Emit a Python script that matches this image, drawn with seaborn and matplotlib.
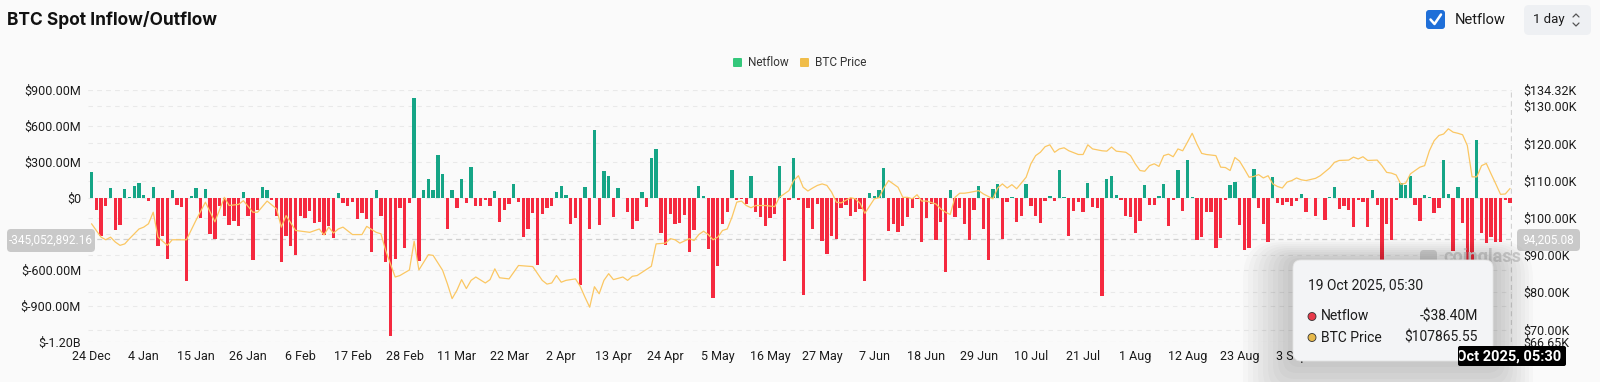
import numpy as np
import pandas as pd
import matplotlib
matplotlib.use('Agg')
import matplotlib.pyplot as plt
import matplotlib.transforms as mtrans
from matplotlib.patches import FancyBboxPatch, Circle
from matplotlib.lines import Line2D
from matplotlib.ticker import FuncFormatter
import seaborn as sns

# ── data ────────────────────────────────────────────────────
start_date = pd.Timestamp('2024-12-24')

# daily spot netflow, $M, 24 Dec 2024 .. 19 Oct 2025
netflow_m = [
    217, -97, -320, -69, 81, -264, -228, 75, 8, 103,
    128, 25, -28, 92, -397, -320, -508, 64, -58, -75,
    -689, 19, 81, -167, 75, -297, -339, -69, -147, -228,
    -189, -236, 47, -153, -519, -97, 92, 69, -14, -153,
    -536, -314, -403, -472, -147, -169, -111, -208, -203, -308,
    -236, -333, 42, -42, -69, -36, -175, -125, -175, -450,
    64, -147, -536, -1153, -506, -86, -417, -42, 833, -528,
    64, 158, 64, 358, 197, -258, 67, -86, 158, -42,
    258, -69, -64, -19, -64, 58, -203, -103, -47, 119,
    -31, -325, -256, -125, -556, -136, -86, -69, 53, 103,
    22, -214, -164, -722, 94, -258, 569, -225, 222, 186,
    -161, 83, 0, -114, -256, -189, 53, -75, 333, 408,
    -292, -392, -131, -217, -208, -144, -450, -269, 103, 14,
    -425, -836, -564, -214, -114, 231, -14, -5, -47, 181,
    -117, -161, -231, -167, -131, 269, -528, -19, 336, -19,
    -811, -83, -258, -47, -356, -467, -314, -339, -86, -58,
    -147, -117, -92, -694, 42, 14, 69, 250, -272, -214,
    -281, -231, -161, -83, -8, -369, -167, -47, -347, -197,
    -619, 64, -161, -83, -217, -347, -97, 103, -256, -519,
    75, 117, -344, -36, 6, -203, -153, 117, -64, -147,
    -208, -25, 14, -22, 236, 8, -314, -111, -36, -117,
    125, -78, -83, -814, 158, 186, 25, -19, -153, -161,
    -292, -189, 111, -56, -56, 14, 117, -231, -19, 236,
    -106, 319, 8, -347, -328, -119, -119, -417, -333, -14,
    106, 133, -228, -436, -417, 242, -83, -214, -369, 172,
    -42, -56, -31, -64, -28, 33, -114, 4, -147, 3,
    -181, 6, 92, -92, -69, -103, -244, -14, -36, -244,
    67, -56, -560, -214, -353, -20, 125, 111, 186, -56,
    -189, 25, 8, -125, -83, 319, 33, -439, 89, -208,
    -520, -540, 483, -289, -378, -322, -364, -364, -20, -38.4,
]

# BTC price readings, $K, at day offsets from 24 Dec 2024
price_day = [
    0, 2, 3, 4, 5, 6, 7, 8, 10, 11,
    12, 13, 14, 16, 17, 20, 22, 24, 26, 28,
    29, 31, 32, 34, 35, 37, 39, 40, 41, 43,
    46, 48, 49, 50, 51, 52, 53, 55, 57, 58,
    60, 61, 62, 64, 65, 67, 68, 69, 71, 72,
    74, 75, 76, 77, 78, 79, 80, 81, 83, 84,
    85, 86, 88, 90, 93, 95, 96, 97, 98, 99,
    100, 102, 103, 104, 105, 106, 107, 108, 109, 110,
    112, 113, 114, 115, 118, 119, 121, 122, 123, 124,
    126, 127, 128, 129, 130, 131, 132, 133, 134, 135,
    136, 137, 138, 139, 140, 142, 144, 145, 147, 148,
    149, 150, 151, 152, 153, 154, 155, 156, 157, 158,
    160, 161, 162, 163, 165, 166, 167, 168, 170, 171,
    172, 173, 174, 175, 176, 178, 179, 180, 181, 182,
    183, 184, 185, 187, 188, 190, 191, 192, 193, 194,
    195, 197, 198, 199, 200, 201, 202, 203, 204, 205,
    206, 208, 209, 210, 211, 213, 214, 215, 216, 218,
    219, 220, 221, 222, 223, 224, 225, 226, 227, 228,
    229, 230, 231, 232, 233, 234, 235, 237, 238, 239,
    240, 241, 242, 243, 244, 245, 246, 247, 248, 249,
    250, 251, 252, 253, 254, 255, 256, 258, 259, 261,
    262, 263, 265, 266, 267, 268, 269, 271, 272, 273,
    274, 275, 276, 277, 278, 280, 281, 282, 283, 284,
    285, 286, 287, 288, 289, 290, 291, 292, 293, 294,
    295, 296, 297, 298, 299,
]
price_k = [
    98.4, 94.8, 94.1, 94.8, 93.5, 92.6, 93.0, 94.4, 97.0, 97.5,
    98.4, 101.5, 94.8, 92.6, 94.1, 94.1, 99.3, 104.2, 98.9, 105.5,
    103.3, 103.6, 104.6, 101.5, 101.5, 104.5, 102.4, 97.5, 100.6, 96.6,
    96.1, 97.0, 95.4, 97.5, 95.9, 97.0, 97.5, 95.5, 95.5, 97.7,
    96.1, 95.7, 91.2, 84.1, 84.5, 86.0, 93.7, 86.0, 90.1, 89.9,
    85.9, 82.3, 78.3, 80.5, 83.4, 81.0, 83.2, 84.1, 82.5, 83.4,
    86.3, 83.9, 83.6, 87.2, 86.9, 83.2, 82.2, 82.5, 84.5, 82.7,
    83.2, 83.6, 81.6, 78.7, 76.0, 81.5, 79.6, 83.2, 85.0, 83.4,
    84.1, 83.2, 84.3, 84.5, 87.0, 93.0, 93.2, 94.4, 94.1, 93.2,
    94.4, 93.9, 95.5, 96.4, 95.5, 94.1, 94.8, 96.6, 97.0, 100.2,
    104.2, 104.5, 103.3, 102.7, 103.3, 103.3, 103.0, 105.5, 107.3, 110.0,
    111.3, 108.2, 107.2, 108.0, 108.7, 109.1, 108.7, 106.9, 104.2, 104.0,
    105.4, 105.1, 103.9, 101.2, 105.1, 105.4, 108.0, 110.0, 108.2, 105.5,
    105.5, 105.1, 106.2, 104.5, 104.5, 103.7, 102.4, 101.5, 100.9, 105.5,
    106.6, 106.6, 106.8, 107.3, 106.4, 105.1, 108.0, 109.1, 108.0, 108.9,
    107.8, 110.9, 114.5, 116.7, 117.6, 119.1, 119.6, 117.6, 118.5, 118.8,
    118.0, 117.0, 117.0, 119.6, 118.5, 118.0, 117.9, 119.0, 117.9, 117.6,
    116.7, 114.5, 112.7, 112.5, 114.0, 114.5, 113.8, 116.7, 117.1, 116.4,
    118.5, 118.0, 120.3, 122.7, 119.8, 117.3, 117.0, 116.7, 113.6, 113.5,
    112.7, 116.2, 115.2, 113.1, 110.9, 111.1, 111.6, 110.7, 111.3, 109.1,
    108.4, 108.0, 109.6, 110.0, 110.7, 110.2, 110.0, 110.6, 111.3, 113.4,
    114.9, 115.4, 115.5, 116.3, 115.8, 116.4, 115.4, 115.5, 114.0, 112.2,
    112.0, 111.5, 109.0, 109.3, 111.8, 113.6, 114.0, 118.0, 120.7, 122.1,
    122.5, 123.9, 123.0, 122.7, 122.3, 119.4, 111.0, 111.0, 114.0, 114.6,
    111.8, 109.1, 106.3, 106.4, 107.87,
]

left_ticks = [-1.2e9, -0.9e9, -0.6e9, -0.3e9, 0, 0.3e9, 0.6e9, 0.9e9]
right_ticks = [66650, 70000, 80000, 90000, 100000, 110000, 120000, 130000, 134320]
tick_days = list(range(0, 254, 11))   # later labels sit under the tooltip

cross_left = -345052892.16
cross_right = '94,205.08'
tip_date = '19 Oct 2025, 05:30'
tip_netflow = '-$38.40M'
tip_price = '$107865.55'

# ── style ───────────────────────────────────────────────────
BG = '#fafafa'
GREEN = '#15a586'
RED = '#f5293f'
GOLD = '#fbc763'
GRID = '#e9e9e9'
TXT = '#1c1c1c'

sns.set_theme(style='white')
plt.rcParams['font.family'] = ['Roboto', 'DejaVu Sans']

W, H = 1600, 382
fig = plt.figure(figsize=(W / 100, H / 100), dpi=100, facecolor=BG)
# pixel coordinates, origin top-left
PX = mtrans.Affine2D().scale(1 / 100, -1 / 100).translate(0, H / 100) + fig.dpi_scale_trans

L, R, T, B = 88, 1512.4, 90, 342
ax = fig.add_axes([L / W, 1 - B / H, (R - L) / W, (B - T) / H])
ax.set_facecolor(BG)

df = pd.DataFrame({'day': np.arange(len(netflow_m)),
                   'netflow': np.array(netflow_m) * 1e6})
df['side'] = np.where(df['netflow'] >= 0, 'in', 'out')

sns.barplot(data=df, x='day', y='netflow', hue='side',
            palette={'in': GREEN, 'out': RED}, native_scale=True,
            width=0.7, dodge=False, saturation=1, errorbar=None,
            linewidth=0, legend=False, ax=ax, zorder=2)

ax.set_xlim(-0.75, 299.5)
ax.set_ylim(-1.2e9, 0.9e9)

ax2 = ax.twinx()
sns.lineplot(x=price_day, y=np.array(price_k) * 1000, ax=ax2,
             color=GOLD, linewidth=0.9, zorder=3)
ax2.set_ylim(66650, 134320)

# gridlines for both scales, drawn behind the bars
lo, hi = ax.get_ylim()
plo, phi = ax2.get_ylim()
grid_y = list(left_ticks) + [lo + (p - plo) / (phi - plo) * (hi - lo) for p in right_ticks]
for g in grid_y:
    ax.axhline(g, color=GRID, lw=0.8, ls=(0, (4, 4)), zorder=0.5)

# crosshair
ax.axhline(cross_left, color='#cfcfcf', lw=0.9, ls=(0, (4, 3)), zorder=1.5)
ax.axvline(299.3, color='#d2d2d2', lw=0.9, ls=(0, (4, 3)), zorder=1.5)


def fmt_left(v, _):
    if v == 0:
        return '$0'
    if np.isclose(v, -0.3e9):
        return ''          # covered by the crosshair label
    if abs(v) >= 1e9:
        return f'${v / 1e9:.2f}B'
    return f'${v / 1e6:.2f}M'


ax.set_yticks(left_ticks)
ax.yaxis.set_major_formatter(FuncFormatter(fmt_left))
ax2.set_yticks(right_ticks)
ax2.yaxis.set_major_formatter(FuncFormatter(lambda v, _: f'${v / 1e3:.2f}K'))

ax.set_xticks(tick_days)
ax.set_xticklabels([f"{(start_date + pd.Timedelta(days=d)).day} "
                    f"{(start_date + pd.Timedelta(days=d)).strftime('%b')}" for d in tick_days])
ax.set_xlabel('')
ax.set_ylabel('')
ax2.set_ylabel('')

ax.tick_params(axis='y', length=0, pad=5, labelsize=9, labelcolor=TXT)
ax.tick_params(axis='x', length=0, pad=6, labelsize=9, labelcolor=TXT)
ax2.tick_params(axis='y', length=0, pad=8, labelsize=9, labelcolor=TXT)
for a in (ax, ax2):
    for s in a.spines.values():
        s.set_visible(False)
    a.grid(False)

# ── header ─────────────────────────────────────────────────
fig.text(7, 20, 'BTC Spot Inflow/Outflow', transform=PX, fontsize=12.5,
         fontweight='bold', color='#111111', va='center', ha='left',
         family=['Inter', 'DejaVu Sans'])

fig.add_artist(FancyBboxPatch((1426, 10), 19, 19, boxstyle='round,pad=0,rounding_size=3',
                              transform=PX, fc='#1f6fd8', ec='none'))
fig.add_artist(Line2D([1430.5, 1434.5, 1441], [19.5, 24, 14.5], transform=PX,
                      color='white', lw=1.8, solid_capstyle='round'))
fig.text(1455, 20, 'Netflow', transform=PX, fontsize=10.5, color=TXT, va='center')

fig.add_artist(FancyBboxPatch((1524, 5), 67, 30, boxstyle='round,pad=0,rounding_size=5',
                              transform=PX, fc='#eef0f3', ec='none'))
fig.text(1533, 20, '1 day', transform=PX, fontsize=9.5, color=TXT, va='center')
fig.add_artist(Line2D([1573, 1576, 1579], [17, 14, 17], transform=PX, color='#555555', lw=0.9))
fig.add_artist(Line2D([1573, 1576, 1579], [23, 26, 23], transform=PX, color='#555555', lw=0.9))

# legend
fig.add_artist(FancyBboxPatch((733, 58), 9, 9, boxstyle='round,pad=0,rounding_size=1',
                              transform=PX, fc='#34c77b', ec='none'))
fig.text(748, 62.5, 'Netflow', transform=PX, fontsize=8.5, color='#333333', va='center')
fig.add_artist(FancyBboxPatch((800, 58), 9, 9, boxstyle='round,pad=0,rounding_size=1',
                              transform=PX, fc='#f0bd4a', ec='none'))
fig.text(815, 62.5, 'BTC Price', transform=PX, fontsize=8.5, color='#333333', va='center')

# crosshair value boxes
fig.add_artist(FancyBboxPatch((7, 229), 88, 23, boxstyle='round,pad=0,rounding_size=4',
                              transform=PX, fc='#c9c9c9', ec='none', zorder=5))
fig.text(51, 240.5, f'{cross_left:,.2f}', transform=PX, fontsize=8.5, color='white',
         ha='center', va='center', zorder=6)
fig.add_artist(FancyBboxPatch((1517, 229), 63, 22, boxstyle='round,pad=0,rounding_size=4',
                              transform=PX, fc='#c9c9c9', ec='none', zorder=5))
fig.text(1548.5, 240, cross_right, transform=PX, fontsize=8.5, color='white',
         ha='center', va='center', zorder=6)

# watermark
fig.add_artist(FancyBboxPatch((1420, 250), 17, 14, boxstyle='round,pad=0,rounding_size=4',
                              transform=PX, fc='#d6d6d6', ec='none', zorder=4))
fig.text(1443, 257, 'coinglass', transform=PX, fontsize=13, fontweight='bold',
         color='#d4d4d4', va='center', zorder=4)

# tooltip with soft shadow
for k in range(10, 0, -1):
    fig.add_artist(FancyBboxPatch((1293 - 5 * k, 260 - 2 * k), 200 + 9 * k, 101 + 8 * k,
                                  boxstyle=f'round,pad=0,rounding_size={8 + 3 * k}',
                                  transform=PX, fc='black', ec='none', alpha=0.018, zorder=8))
fig.add_artist(FancyBboxPatch((1293, 260), 200, 101, boxstyle='round,pad=0,rounding_size=8',
                              transform=PX, fc='#f3f4f6', ec='#e4e4e4', lw=0.6, zorder=9))
fig.text(1308, 285, tip_date, transform=PX, fontsize=10, color=TXT, va='center', zorder=10)
fig.add_artist(Circle((1312, 316.5), 4, transform=PX, fc='#e8394a', ec='#333333', lw=0.6, zorder=10))
fig.text(1321, 316.5, 'Netflow', transform=PX, fontsize=10, color=TXT, va='center', zorder=10)
fig.text(1478, 316.5, tip_netflow, transform=PX, fontsize=10, color=TXT, va='center',
         ha='right', zorder=10)
fig.add_artist(Circle((1312, 337.5), 4, transform=PX, fc='#e6b84a', ec='#333333', lw=0.6, zorder=10))
fig.text(1321, 337.5, 'BTC Price', transform=PX, fontsize=10, color=TXT, va='center', zorder=10)
fig.text(1478, 337.5, tip_price, transform=PX, fontsize=10, color=TXT, va='center',
         ha='right', zorder=10)

# date box on the x axis: sits over the tooltip corner, label clipped by the box
fig.add_artist(FancyBboxPatch((1458, 346), 108, 20, boxstyle='round,pad=0,rounding_size=2',
                              transform=PX, fc='#000000', ec='none', zorder=11))
date_txt = fig.text(1561, 356.5, tip_date, transform=PX, fontsize=10.5, color='white',
                    fontweight='bold', ha='right', va='center', zorder=12)
date_txt.set_clip_box(mtrans.Bbox([[1459, H - 366], [1566, H - 346]]))
date_txt.set_clip_on(True)

fig.savefig('out.png', dpi=100, facecolor=BG)
